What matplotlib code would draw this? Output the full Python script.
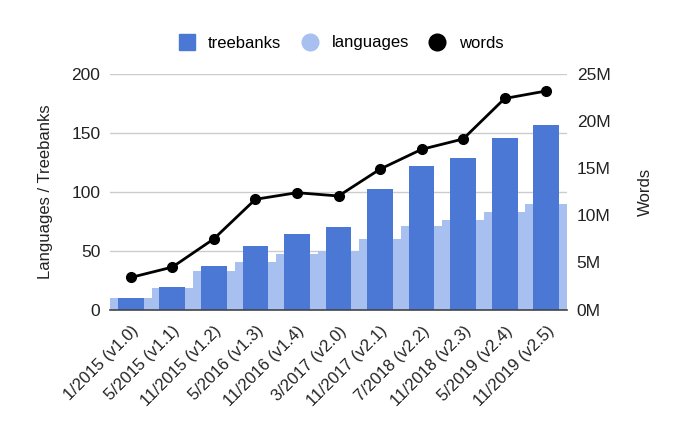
import matplotlib
matplotlib.use("Agg")
import matplotlib.pyplot as plt
from matplotlib.lines import Line2D
import numpy as np

releases = ["1/2015 (v1.0)", "5/2015 (v1.1)", "11/2015 (v1.2)", "5/2016 (v1.3)",
            "11/2016 (v1.4)", "3/2017 (v2.0)", "11/2017 (v2.1)", "7/2018 (v2.2)",
            "11/2018 (v2.3)", "5/2019 (v2.4)", "11/2019 (v2.5)"]
treebanks = [10, 19, 37, 54, 64, 70, 102, 122, 129, 146, 157]
languages = [10, 18, 33, 40, 47, 50, 60, 71, 76, 83, 90]
words_m = [3.4, 4.5, 7.5, 11.7, 12.4, 12.05, 14.9, 17.0, 18.1, 22.4, 23.2]

left_ticks = [0, 50, 100, 150, 200]
right_ticks = [0, 5, 10, 15, 20, 25]

DARK = "#4a78d4"
LIGHT = "#a8c0f0"
TXT = "#222222"
FS = 12

plt.rcParams['font.family'] = ['Liberation Sans', 'DejaVu Sans']

fig = plt.figure(figsize=(6.8, 4.41), dpi=100)
ax = fig.add_axes([110/680, 1-309.5/441, (567-110)/680, (309.5-74)/441])

x = np.arange(len(releases))
edges = np.arange(len(releases) + 1) - 0.5

ax.stairs(languages, edges, fill=True, color=LIGHT, zorder=2, linewidth=0)
ax.bar(x, treebanks, width=0.62, color=DARK, zorder=3, linewidth=0)

ax.set_xlim(-0.5, len(releases) - 0.5)
ax.set_ylim(0, 200)
ax.set_yticks(left_ticks)
ax.set_yticklabels([str(t) for t in left_ticks], fontsize=12.5, color=TXT)
ax.grid(axis='y', color="#cccccc", linewidth=1, zorder=0)
ax.set_axisbelow(True)
for s in ["top", "right", "left"]:
    ax.spines[s].set_visible(False)
ax.spines["bottom"].set_color("#444444")
ax.spines["bottom"].set_linewidth(1.2)
ax.spines["bottom"].set_zorder(5)
ax.tick_params(axis='both', length=0)
ax.tick_params(axis='y', pad=7)
ax.set_xticks(x)
ax.set_xticklabels(releases, rotation=45, ha='right', va='top',
                   rotation_mode='anchor', fontsize=FS, color=TXT)
ax.tick_params(axis='x', pad=10)
ax.set_ylabel("Languages / Treebanks", fontsize=FS, color=TXT, labelpad=13)

ax2 = ax.twinx()
ax2.plot(x, words_m, color="black", linewidth=2, marker='o', markersize=7, zorder=6)
ax2.set_ylim(0, 25)
ax2.set_yticks(right_ticks)
ax2.set_yticklabels([f"{t}M" for t in right_ticks], fontsize=12.5, color=TXT)
for s in ["top", "right", "left", "bottom"]:
    ax2.spines[s].set_visible(False)
ax2.tick_params(axis='y', length=0, pad=7)
ax2.set_ylabel("Words", fontsize=FS, color=TXT, labelpad=20)
ax2.set_zorder(ax.get_zorder() + 1)
ax2.patch.set_visible(False)

handles = [
    Line2D([], [], linestyle='none', marker='s', markersize=12, color=DARK),
    Line2D([], [], linestyle='none', marker='o', markersize=12, color=LIGHT),
    Line2D([], [], linestyle='none', marker='o', markersize=12, color="black"),
]
fig.legend(handles, ["treebanks", "languages", "words"], loc='center',
           bbox_to_anchor=(0.5, 1-43/441), ncol=3, frameon=False, fontsize=FS,
           handletextpad=0.7, columnspacing=1.1, handlelength=1.2)

fig.savefig("out.png", dpi=100)
